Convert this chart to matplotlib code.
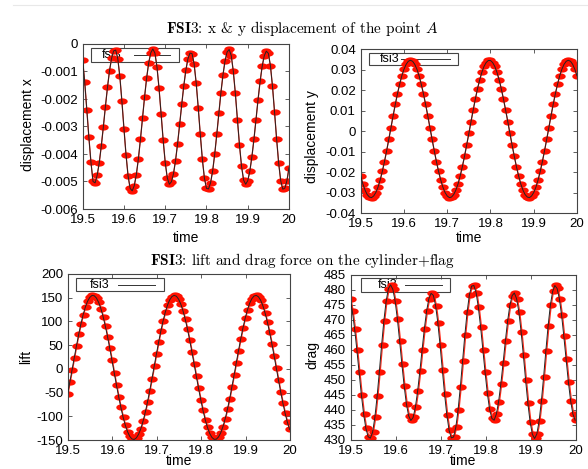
import numpy as np
import matplotlib
matplotlib.use('Agg')
import matplotlib.pyplot as plt
from matplotlib.path import Path
from matplotlib.patches import Rectangle
from matplotlib.lines import Line2D

plt.rcParams['font.family'] = ['Liberation Sans', 'DejaVu Sans']
plt.rcParams['mathtext.fontset'] = 'cm'
plt.rcParams['axes.unicode_minus'] = False

# sampling grid of the simulation output (dt = 0.005)
time = np.linspace(19.5, 20.0, 101)

disp_x = [-0.00060, -0.00140, -0.00240, -0.00340, -0.00430, -0.00500, -0.00505, -0.00478, -0.00433, -0.00372,
          -0.00302, -0.00228, -0.00158, -0.00097, -0.00052, -0.00025, -0.00022, -0.00053, -0.00118, -0.00208,
          -0.00308, -0.00403, -0.00480, -0.00525, -0.00534, -0.00515, -0.00475, -0.00417, -0.00346, -0.00269,
          -0.00192, -0.00123, -0.00068, -0.00032, -0.00018, -0.00033, -0.00083, -0.00161, -0.00254, -0.00349,
          -0.00431, -0.00487, -0.00510, -0.00501, -0.00472, -0.00424, -0.00362, -0.00292, -0.00220, -0.00152,
          -0.00095, -0.00054, -0.00033, -0.00035, -0.00072, -0.00141, -0.00231, -0.00329, -0.00419, -0.00488,
          -0.00525, -0.00527, -0.00504, -0.00461, -0.00400, -0.00328, -0.00252, -0.00177, -0.00112, -0.00061,
          -0.00029, -0.00020, -0.00042, -0.00099, -0.00180, -0.00275, -0.00368, -0.00445, -0.00495, -0.00510,
          -0.00497, -0.00463, -0.00411, -0.00347, -0.00275, -0.00202, -0.00136, -0.00081, -0.00043, -0.00026,
          -0.00034, -0.00079, -0.00154, -0.00248, -0.00346, -0.00434, -0.00498, -0.00528, -0.00524, -0.00497,
          -0.00450]

disp_y = [-0.0219, -0.0258, -0.0288, -0.0310, -0.0322, -0.0325, -0.0317, -0.0300, -0.0274, -0.0239,
          -0.0197, -0.0149, -0.0096, -0.0040, 0.0017, 0.0075, 0.0130, 0.0182, 0.0228, 0.0269,
          0.0301, 0.0325, 0.0340, 0.0345, 0.0340, 0.0325, 0.0301, 0.0269, 0.0228, 0.0182,
          0.0130, 0.0075, 0.0017, -0.0040, -0.0096, -0.0149, -0.0197, -0.0239, -0.0274, -0.0300,
          -0.0317, -0.0325, -0.0322, -0.0310, -0.0288, -0.0258, -0.0219, -0.0174, -0.0123, -0.0068,
          -0.0012, 0.0046, 0.0102, 0.0156, 0.0206, 0.0249, 0.0286, 0.0315, 0.0334, 0.0344,
          0.0344, 0.0334, 0.0315, 0.0286, 0.0250, 0.0206, 0.0156, 0.0102, 0.0046, -0.0012,
          -0.0069, -0.0123, -0.0174, -0.0219, -0.0258, -0.0288, -0.0310, -0.0322, -0.0325, -0.0317,
          -0.0300, -0.0274, -0.0239, -0.0197, -0.0149, -0.0096, -0.0040, 0.0017, 0.0075, 0.0130,
          0.0182, 0.0228, 0.0269, 0.0301, 0.0325, 0.0340, 0.0345, 0.0340, 0.0325, 0.0301,
          0.0269]

lift = [-53.5, -28.6, -2.9, 23.1, 48.5, 72.5, 94.5, 114.0, 129.9, 142.4,
        150.6, 154.7, 154.2, 149.4, 140.2, 127.0, 110.3, 90.2, 67.9, 43.4,
        17.9, -8.1, -33.8, -58.3, -81.1, -101.6, -118.8, -132.4, -142.3, -147.8,
        -148.8, -145.5, -137.9, -126.0, -110.4, -91.5, -70.0, -46.1, -20.9, 5.0,
        30.8, 55.9, 79.5, 100.7, 119.1, 134.2, 145.3, 152.3, 155.0, 153.2,
        147.0, 136.6, 122.3, 104.5, 83.7, 60.6, 35.8, 10.0, -15.8, -41.3,
        -65.4, -87.6, -107.0, -123.3, -135.9, -144.4, -148.5, -148.3, -143.6, -134.7,
        -121.6, -105.1, -85.3, -63.0, -38.6, -13.1, 12.9, 38.6, 63.2, 86.1,
        106.7, 124.0, 138.0, 147.9, 153.6, 154.9, 151.8, 144.4, 132.7, 117.3,
        98.5, 77.0, 53.3, 28.1, 2.2, -23.7, -48.8, -72.4, -93.8, -112.4,
        -127.6]

drag = [477.0, 472.9, 467.1, 460.1, 452.5, 445.1, 438.7, 433.9, 431.1, 430.6,
        432.6, 437.5, 444.5, 452.8, 461.6, 469.7, 476.2, 480.4, 481.7, 480.2,
        476.3, 470.4, 463.1, 455.4, 448.1, 442.1, 438.1, 436.5, 437.5, 440.9,
        446.2, 452.9, 460.1, 467.1, 473.0, 477.1, 478.9, 478.2, 474.8, 469.0,
        461.5, 453.3, 445.2, 438.3, 433.2, 430.7, 431.0, 434.3, 440.1, 447.7,
        456.4, 465.0, 472.6, 478.3, 481.3, 481.5, 479.1, 474.2, 467.7, 460.1,
        452.5, 445.5, 440.2, 437.2, 436.6, 438.6, 442.8, 448.7, 455.7, 463.0,
        469.6, 474.9, 478.1, 479.0, 477.1, 472.7, 466.1, 458.3, 450.0, 442.3,
        436.0, 431.9, 430.5, 432.0, 436.3, 442.9, 451.0, 459.7, 468.0, 474.9,
        479.5, 481.5, 480.5, 477.1, 471.6, 464.5, 456.9, 449.4, 443.1, 438.7,
        436.6]

# small time offset of the fsi3 reference curve against the computed one
ref_offset = [0.0, 0.0, -0.001, -0.002]

x_ticks = [19.5, 19.6, 19.7, 19.8, 19.9, 20.0]
x_ticklabels = ['19.5', '19.6', '19.7', '19.8', '19.9', '20']

W, H = 588, 469
fig = plt.figure(figsize=(W / 100, H / 100), dpi=100)


def fx(px):
    return px / W


def fy(py):
    return 1 - py / H


# ellipse marker (the pdf screenshot is stretched horizontally)
ang = np.linspace(0, 2 * np.pi, 33)
ellipse = Path(np.column_stack([np.cos(ang), 0.6 * np.sin(ang)]))

panels = [
    dict(rect=(82.7, 44, 289, 209), data=disp_x, ylim=(-0.006, 0.0),
         yticks=[-0.006, -0.005, -0.004, -0.003, -0.002, -0.001, 0.0],
         ylabels=['-0.006', '-0.005', '-0.004', '-0.003', '-0.002', '-0.001', '0'],
         ylabel='displacement x', ylab_pos=(28, 125),
         key=(91, 48, 179, 62), key_text=112, key_line=(134, 170)),
    dict(rect=(360.7, 49, 577, 213), data=disp_y, ylim=(-0.04, 0.04),
         yticks=[-0.04, -0.03, -0.02, -0.01, 0.0, 0.01, 0.02, 0.03, 0.04],
         ylabels=['-0.04', '-0.03', '-0.02', '-0.01', '0', '0.01', '0.02', '0.03', '0.04'],
         ylabel='displacement y', ylab_pos=(312, 137),
         key=(369, 53, 458, 65), key_text=390, key_line=(401, 450)),
    dict(rect=(68, 274, 290, 440), data=lift, ylim=(-150, 200),
         yticks=[-150, -100, -50, 0, 50, 100, 150, 200],
         ylabels=['-150', '-100', '-50', '0', '50', '100', '150', '200'],
         ylabel='lift', ylab_pos=(26, 357),
         key=(76, 278, 164, 291), key_text=100, key_line=(118, 155)),
    dict(rect=(351, 275, 576, 440), data=drag, ylim=(430, 485),
         yticks=[430, 435, 440, 445, 450, 455, 460, 465, 470, 475, 480, 485],
         ylabels=['430', '435', '440', '445', '450', '455', '460', '465', '470', '475', '480', '485'],
         ylabel='drag', ylab_pos=(312, 355),
         key=(361, 278, 450, 292), key_text=388, key_line=(405, 442)),
]

for i, p in enumerate(panels):
    l, t, r, b = p['rect']
    ax = fig.add_axes([fx(l), fy(b), fx(r - l), (b - t) / H])

    # fsi3 reference curve (thin black line)
    ax.plot(time + ref_offset[i], p['data'], color='#222222', lw=0.7, zorder=3)
    # computed values, red line with points
    ax.plot(time, p['data'], color='#ff2a1a', lw=0.9, marker=ellipse, ms=7.5,
            mec='none', mfc='#ff1000', zorder=2)

    ax.set_xlim(19.5, 20.0)
    ax.set_ylim(*p['ylim'])
    ax.set_xticks(x_ticks)
    ax.set_xticklabels(x_ticklabels)
    ax.set_yticks(p['yticks'])
    ax.set_yticklabels(p['ylabels'])
    ax.tick_params(direction='in', length=3, width=0.6, color='#444444',
                   top=True, right=True, labelsize=9.5, pad=3.5)
    for s in ax.spines.values():
        s.set_color('#444444')
        s.set_linewidth(0.8)

    # gnuplot style key, drawn below the data
    kl, kt, kr, kb = p['key']
    ax.add_patch(Rectangle((fx(kl), fy(kb)), fx(kr - kl), (kb - kt) / H,
                           transform=fig.transFigure, fill=False, ec='#444444',
                           lw=0.8, zorder=1, clip_on=False))
    ky = fy((kt + kb) / 2)
    ax.text(fx(p['key_text']), ky, 'fsi3', transform=fig.transFigure,
            ha='center', va='center', fontsize=9, zorder=1)
    ax.add_line(Line2D([fx(p['key_line'][0]), fx(p['key_line'][1])], [ky, ky],
                       transform=fig.transFigure, color='#333333', lw=0.7,
                       zorder=1, clip_on=False))

    fig.text(fx(p['ylab_pos'][0]), fy(p['ylab_pos'][1]), p['ylabel'],
             rotation=90, ha='center', va='center', fontsize=10)
    xlab_y = 238 if i < 2 else 461
    fig.text(fx((l + r) / 2), fy(xlab_y), 'time', ha='center', va='center', fontsize=10)

fig.text(fx(302), fy(28), r'$\mathbf{FSI3}$: x & y displacement of the point $A$',
         family='cmr10', ha='center', va='center', fontsize=11)
fig.text(fx(302), fy(260), r'$\mathbf{FSI3}$: lift and drag force on the cylinder+flag',
         family='cmr10', ha='center', va='center', fontsize=11)

# faint page edge line at the top of the screenshot
fig.add_artist(Line2D([fx(13), 1.0], [fy(5), fy(5)], color='#e8e8e8', lw=0.8))

fig.savefig('out.png', dpi=100)
